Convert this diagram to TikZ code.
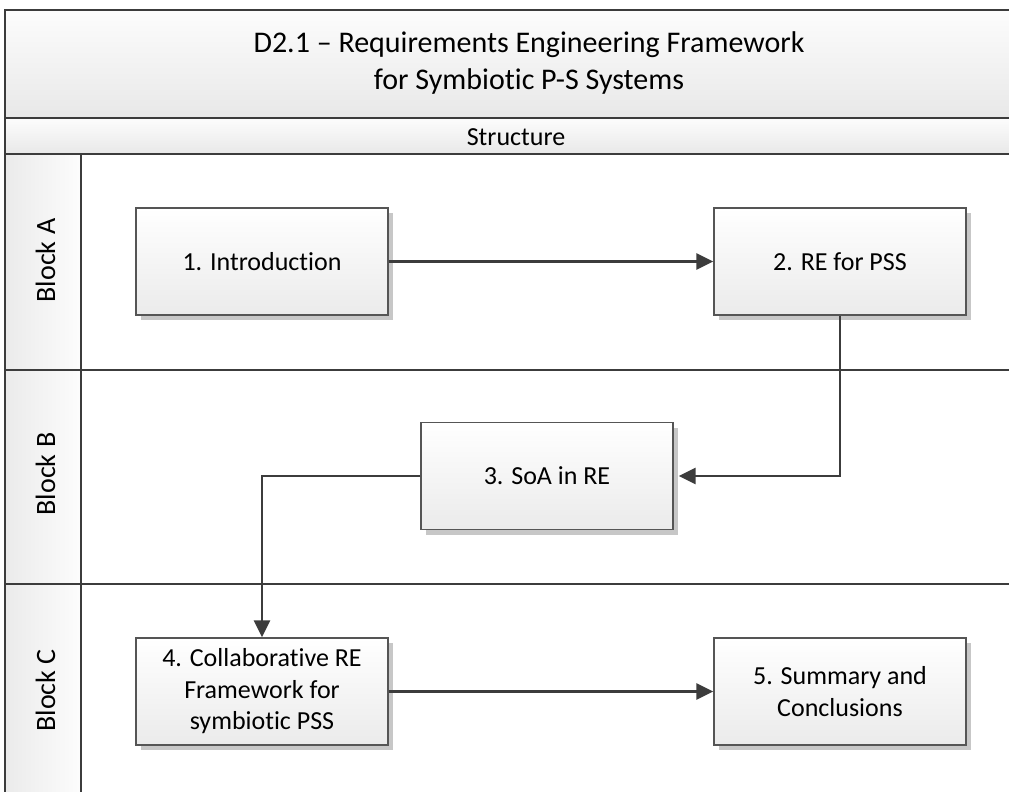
\documentclass[tikz,border=0pt]{standalone}
\usepackage{fontspec}
\setmainfont{Carlito}[Ligatures=NoCommon]
\usetikzlibrary{arrows.meta,shadows}

\definecolor{framecol}{HTML}{3C3C3C}
\definecolor{boxline}{HTML}{555555}
\definecolor{linkcol}{HTML}{3C3C3C}

\tikzset{
  frameline/.style={draw=framecol, line width=2.2pt},
  band/.style={top color=black!1, bottom color=black!9},
  lanehead/.style={left color=black!8, right color=black!1},
  stepbox/.style={draw=boxline, line width=1.3pt, top color=white, bottom color=black!8,
    minimum width=252pt, minimum height=107pt, inner sep=2pt, align=center,
    font=\fontsize{26}{31.5}\selectfont,
    drop shadow={shadow xshift=5pt, shadow yshift=-5pt, fill=black!22, opacity=1}},
  lanelabel/.style={rotate=90, anchor=base, font=\fontsize{28}{33}\selectfont},
  link/.style={draw=linkcol, line width=2.7pt,
    -{Triangle[length=17pt,width=16pt]}}
}

\begin{document}
\begin{tikzpicture}[x=1pt, y=-1pt]
  \useasboundingbox (0,0) rectangle (1009,792);

  % header bands and lane-title column
  \path[band] (5,10) rectangle (1009,118);
  \path[band] (5,118) rectangle (1009,154);
  \path[lanehead] (5,154) rectangle (81,792);

  % pool frame and lane separators
  \draw[frameline] (1009,10) -- (5,10) -- (5,792);
  \draw[frameline] (5,118) -- (1009,118);
  \draw[frameline] (5,154) -- (1009,154);
  \draw[frameline] (81,154) -- (81,792);
  \draw[frameline] (5,370) -- (1009,370);
  \draw[frameline] (5,584) -- (1009,584);

  % titles
  \node[font=\fontsize{30}{36.5}\selectfont, align=center] (title) at (529,63)
    {D2.1 – Requirements Engineering Framework\\for Symbiotic P-S Systems};
  \node[font=\fontsize{26}{31}\selectfont] (structure) at (516,137) {Structure};

  \node[lanelabel] (laneA) at (55,260.5) {Block A};
  \node[lanelabel] (laneB) at (55,474) {Block B};
  \node[lanelabel] (laneC) at (55,690.5) {Block C};

  % process steps
  \node[stepbox] (intro) at (262,261.5) {1. Introduction};
  \node[stepbox] (repss) at (840,261.5) {2. RE for PSS};
  \node[stepbox] (soa)   at (547,476)   {3. SoA in RE};
  \node[stepbox] (collab) at (262,691.5) {4. Collaborative RE\\Framework for\\symbiotic PSS};
  \node[stepbox] (summ)  at (840,691.5) {5. Summary and\\Conclusions};

  % flow
  \draw[link] (intro) -- (repss);
  \draw[link] (repss.south) |- ([xshift=5pt]soa.east);
  \draw[link] (soa.west) -| (collab.north);
  \draw[link] (collab) -- (summ);
\end{tikzpicture}
\end{document}
